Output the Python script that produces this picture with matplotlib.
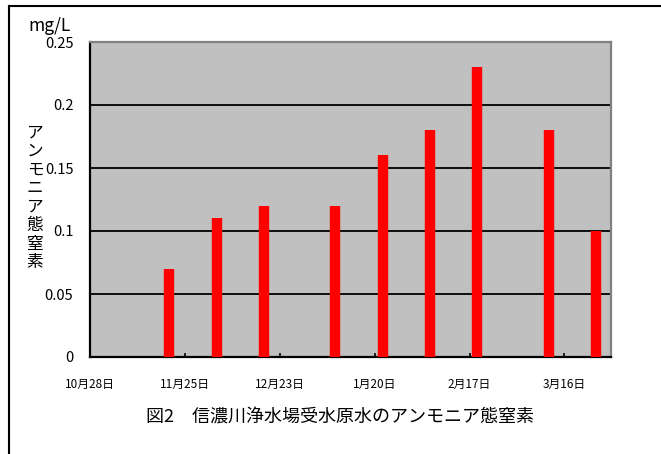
import datetime as dt
import matplotlib
matplotlib.use("Agg")
import matplotlib.pyplot as plt
from matplotlib.lines import Line2D

plt.rcParams['font.family'] = ['Noto Sans CJK JP', 'DejaVu Sans']

# sampling dates and ammonium nitrogen (mg/L)
dates = ["2007-11-20", "2007-12-04", "2007-12-18", "2008-01-08", "2008-01-22",
         "2008-02-05", "2008-02-19", "2008-03-11", "2008-03-25"]
values = [0.07, 0.11, 0.12, 0.12, 0.16, 0.18, 0.23, 0.18, 0.10]
tick_dates = ["2007-10-28", "2007-11-25", "2007-12-23", "2008-01-20",
              "2008-02-17", "2008-03-16"]
y_ticks = [0, 0.05, 0.1, 0.15, 0.2, 0.25]
y_labels = ["0", "0.05", "0.1", "0.15", "0.2", "0.25"]

title = "図2　信濃川浄水場受水原水のアンモニア態窒素"
ylabel = "アンモニア態窒素"

x = [dt.datetime.strptime(d, "%Y-%m-%d") + dt.timedelta(hours=8) for d in dates]
xt = [dt.datetime.strptime(d, "%Y-%m-%d") for d in tick_dates]

fig = plt.figure(figsize=(6.61, 4.54), dpi=100)
ax = fig.add_axes([90 / 661, 1 - 357 / 454, 521 / 661, 315 / 454])
ax.set_facecolor("#c0c0c0")

ax.set_ylim(0, 0.25)
ax.set_xlim(xt[0], dt.datetime(2008, 3, 29, 18))
ax.set_yticks(y_ticks)
ax.set_yticklabels(y_labels)
ax.set_xticks(xt)
ax.set_xticklabels([f"{d.month}月{d.day}日" for d in xt])

for v in y_ticks[1:-1]:
    ax.axhline(v, color="black", lw=1.3, zorder=1)

ax.vlines(x, 0, values, colors="red", lw=7.5, zorder=3)

ax.tick_params(axis="y", length=0, pad=12, labelsize=10.5)
ax.tick_params(axis="x", direction="in", length=3, width=1.2, pad=15, labelsize=8.5)

for side in ("left", "bottom"):
    ax.spines[side].set_color("black")
    ax.spines[side].set_linewidth(1.6)
for side in ("top", "right"):
    ax.spines[side].set_color("#808080")
    ax.spines[side].set_linewidth(1.6)

fig.text(28 / 661, 1 - 31 / 454, "mg/L", fontsize=12.5, ha="left", va="baseline")
fig.text(35 / 661, 1 - 198 / 454, "\n".join(ylabel), fontsize=12, ha="center",
         va="center", linespacing=1.12)
fig.text(340 / 661, 1 - 418 / 454, title, fontsize=13, ha="center", va="center")

# outer chart frame
fig.add_artist(Line2D([9 / 661, 9 / 661], [0, 1 - 6 / 454], transform=fig.transFigure,
                      color="black", lw=1.5))
fig.add_artist(Line2D([9 / 661, 1], [1 - 6 / 454, 1 - 6 / 454], transform=fig.transFigure,
                      color="black", lw=1.5))

fig.savefig("out.png", dpi=100)
